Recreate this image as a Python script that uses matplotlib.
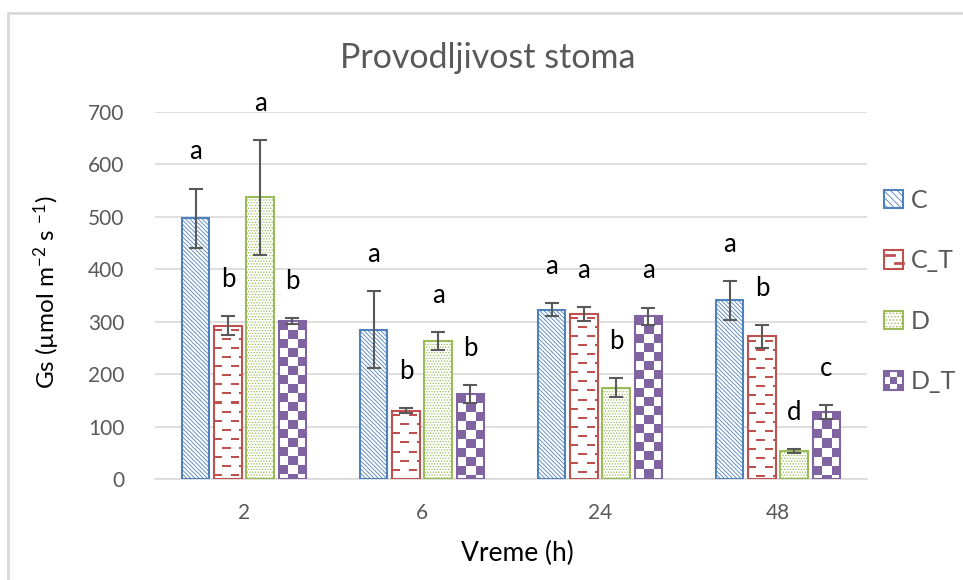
import numpy as np
import matplotlib.pyplot as plt
from matplotlib.patches import Patch, Rectangle
from matplotlib.legend_handler import HandlerBase
from matplotlib.lines import Line2D

plt.rcParams['font.family'] = ['Lato', 'DejaVu Sans']
plt.rcParams['mathtext.fontset'] = 'custom'
plt.rcParams['mathtext.rm'] = 'Lato'
plt.rcParams['mathtext.it'] = 'Lato:italic'
plt.rcParams['hatch.linewidth'] = 0.6

#-----------数据-----------
times = ['2', '6', '24', '48']
series = ['C', 'C_T', 'D', 'D_T']

gs_c = [497, 285, 323, 341]
gs_ct = [292, 130, 315, 272]
gs_d = [537, 263, 174, 53]
gs_dt = [301, 162, 310, 128]

err_c = [57, 73, 12, 37]
err_ct = [18, 5, 13, 22]
err_d = [110, 17, 18, 4]
err_dt = [6, 17, 17, 13]

let_c = ['a', 'a', 'a', 'a']
let_ct = ['b', 'b', 'a', 'b']
let_d = ['a', 'a', 'b', 'd']
let_dt = ['b', 'b', 'a', 'c']

values = [gs_c, gs_ct, gs_d, gs_dt]
errors = [err_c, err_ct, err_d, err_dt]
letters = [let_c, let_ct, let_d, let_dt]

#-----------样式-----------
colors = ['#4F81BD', '#C0504D', '#9BBB59', '#8064A2']
grey = '#595959'
bar_w = 0.152
step = 0.18


#按像素生成填充图案
def make_pattern(kind, color, h, w):
    rgb = np.array(plt.matplotlib.colors.to_rgb(color))
    img = np.ones((h, w, 3))
    yy, xx = np.mgrid[0:h, 0:w]
    if kind == 'dash':
        row = yy // 9
        mask = (yy % 9 >= 4) & (yy % 9 <= 5) & (((xx + (row % 2) * 8) % 16) < 8)
    else:
        mask = ((yy // 9) + (xx // 9)) % 2 == 0
    img[mask] = rgb
    return img


class PatternHandler(HandlerBase):
    def __init__(self, kind, color):
        super().__init__()
        self.kind = kind
        self.color = color

    def create_artists(self, legend, orig_handle, xdescent, ydescent,
                       width, height, fontsize, trans):
        x0, y0 = -xdescent, -ydescent
        arts = [Rectangle((x0, y0), width, height, facecolor='white',
                          edgecolor=self.color, lw=1.5, transform=trans)]
        if self.kind == 'check':
            n = 3
            for i in range(n):
                for j in range(n):
                    if (i + j) % 2 == 0:
                        arts.append(Rectangle((x0 + i * width / n, y0 + j * height / n),
                                              width / n, height / n, facecolor=self.color,
                                              edgecolor='none', transform=trans))
        else:
            for yf, a, b in [(0.75, 0.1, 0.5), (0.3, 0.6, 1.0)]:
                arts.append(Line2D([x0 + a * width, x0 + b * width],
                                   [y0 + yf * height] * 2, color=self.color,
                                   lw=2, transform=trans))
        return arts


fig = plt.figure(figsize=(9.63, 5.80), dpi=100)
ax = fig.add_axes([155 / 963, 1 - 479 / 580, 712 / 963, 367 / 580])

# 外框
fig.patches.append(Rectangle((8 / 963, -0.1), 1.2, 1 - 13 / 580 + 0.1,
                             transform=fig.transFigure, fill=False,
                             edgecolor='#D9D9D9', lw=2))

ax.set_xlim(-0.5, 3.5)
ax.set_ylim(0, 700)

x = np.arange(len(times))
hatches = ['\\' * 8, None, '.' * 6, None]
kinds = [None, 'dash', None, 'check']

for k in range(4):
    pos = x + (k - 1.5) * step
    bars = ax.bar(pos, values[k], bar_w, facecolor='white', edgecolor=colors[k],
                  hatch=hatches[k], linewidth=1.5, zorder=3)
    if kinds[k] is not None:
        for b in bars:
            bx, by = b.get_x(), b.get_y()
            bw, bh = b.get_width(), b.get_height()
            p0 = ax.transData.transform((bx, by))
            p1 = ax.transData.transform((bx + bw, by + bh))
            wpx = max(int(round(p1[0] - p0[0])), 1)
            hpx = max(int(round(p1[1] - p0[1])), 1)
            img = make_pattern(kinds[k], colors[k], hpx, wpx)
            im = ax.imshow(img, extent=(bx, bx + bw, by, by + bh), origin='upper',
                           aspect='auto', interpolation='nearest', zorder=2.5)
            im.set_clip_path(b)
            b.set_facecolor('none')
    ax.errorbar(pos, values[k], yerr=errors[k], fmt='none', ecolor=grey,
                elinewidth=1.5, capsize=5, capthick=1.5, zorder=4)
    for i in range(len(times)):
        ax.text(pos[i], values[k][i] + errors[k][i] + 70, letters[k][i],
                ha='center', va='center', fontsize=18.5, color='black', zorder=5)

ax.set_xlim(-0.5, 3.5)
ax.set_ylim(0, 700)

#坐标轴
ax.set_yticks(np.arange(0, 701, 100))
ax.set_xticks(x)
ax.set_xticklabels(times)
ax.tick_params(length=0, labelsize=15, colors=grey)
ax.tick_params(axis='x', pad=17)
ax.tick_params(axis='y', pad=22)
ax.grid(axis='y', color='#D9D9D9', lw=1.2, zorder=0)
ax.set_axisbelow(True)
for s in ['top', 'right', 'left']:
    ax.spines[s].set_visible(False)
ax.spines['bottom'].set_color('#D9D9D9')
ax.spines['bottom'].set_linewidth(1.2)

fig.text(488 / 963, 1 - 58 / 580, 'Provodljivost stoma', ha='center', va='center',
         fontsize=24.5, color=grey)
fig.text(517 / 963, 1 - 553 / 580, 'Vreme (h)', ha='center', va='center',
         fontsize=19, color='black')
fig.text(47 / 963, 1 - 292 / 580, r'Gs (µmol m$^{-2}$ s $^{-1}$)', ha='center',
         va='center', rotation=90, fontsize=17.5, color='black')

#图例
handles = [Patch(facecolor='white', edgecolor=colors[0], hatch='\\' * 5, lw=1.5),
           Patch(facecolor='white', edgecolor=colors[1]),
           Patch(facecolor='white', edgecolor=colors[2], hatch='.' * 5, lw=1.5),
           Patch(facecolor='white', edgecolor=colors[3])]
hmap = {handles[1]: PatternHandler('dash', colors[1]),
        handles[3]: PatternHandler('check', colors[3])}
leg = fig.legend(handles, series, loc='center left',
                 bbox_to_anchor=(884 / 963, 1 - 291 / 580), frameon=False,
                 fontsize=18, handlelength=0.76, handleheight=0.76,
                 handletextpad=0.3, labelspacing=1.5, borderpad=0,
                 borderaxespad=0, handler_map=hmap)
for t in leg.get_texts():
    t.set_color(grey)

plt.savefig('out.png', dpi=100)
